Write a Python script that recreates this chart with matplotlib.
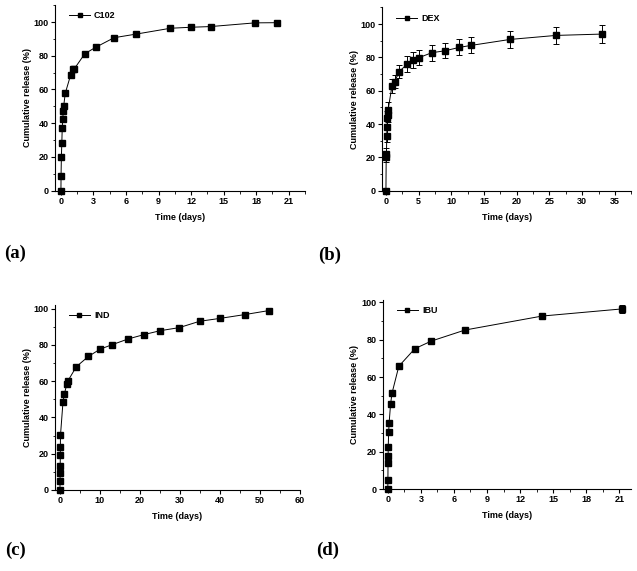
import matplotlib.pyplot as plt
from matplotlib.ticker import MultipleLocator, AutoMinorLocator

##################
### Data ###
## (a) C102
t_C102 = [0, 0.01, 0.04, 0.08, 0.12, 0.17, 0.21, 0.25, 0.4, 0.9, 1.12, 1.25, 2.2, 3.2, 4.9, 6.9, 10.1, 12, 13.8, 17.9, 19.9]
r_C102 = [0, 8.9, 19.8, 28.1, 37.2, 42.4, 47.1, 50.1, 57.8, 68.7, 71.9, 72.4, 81.2, 85.0, 90.7, 92.8, 96.3, 96.9, 97.3, 99.5, 99.6]

## (b) DEX
t_DEX = [0, 0.04, 0.08, 0.125, 0.17, 0.21, 0.25, 0.33, 0.92, 1.33, 2, 3.26, 4.2, 5, 7, 9.05, 11.2, 13, 19, 26, 33]
r_DEX = [0, 20.5, 22.0, 33.0, 38.5, 43.5, 45.5, 48.5, 62.8, 65.4, 71.4, 76.0, 78.2, 79.8, 82.8, 84.0, 86.0, 87.2, 90.8, 93.2, 94.0]
e_DEX = [0, 3.0, 3.5, 4.0, 4.5, 4.5, 4.5, 5.0, 4.0, 4.0, 4.0, 4.6, 4.8, 4.6, 4.7, 4.5, 4.8, 4.8, 5.1, 5.3, 5.5]

## (c) IND
t_IND = [0, 0.02, 0.04, 0.06, 0.08, 0.1, 0.125, 0.75, 1.1, 1.7, 2, 4.1, 7.1, 10, 12.9, 17.1, 20.9, 25, 29.8, 34.9, 40, 46.2, 52.2]
r_IND = [0, 5.0, 9.2, 13.2, 19.4, 23.9, 30.1, 48.4, 53.0, 58.2, 60.2, 68.0, 73.6, 77.6, 80.0, 83.3, 85.6, 87.8, 89.5, 93.0, 94.6, 96.7, 98.9]

## (d) IBU
t_IBU = [0, 0.01, 0.02, 0.03, 0.04, 0.08, 0.12, 0.25, 0.38, 1, 2.45, 3.95, 7, 14, 21.2]
r_IBU = [0, 4.6, 13.8, 17.9, 22.7, 30.7, 35.4, 45.4, 51.3, 65.8, 75.2, 79.3, 85.2, 92.7, 96.5]
e_IBU = [0, 0.3, 0.4, 0.4, 0.5, 0.5, 0.6, 0.6, 0.8, 1.0, 0.8, 0.8, 0.8, 1.2, 2.1]

################
### Graphics ###
plt.rcParams['font.family'] = ['Liberation Sans', 'DejaVu Sans']
plt.rcParams['font.weight'] = 'bold'

fig = plt.figure(figsize=(6.37, 5.71), dpi=100)

## name, times, values, errors, axes rect, xlim, ylim, x major step, panel label + position
panels = [
    ('C102', t_C102, r_C102, None, [0.0863, 0.666, 0.3925, 0.325], (-0.55, 22.5), (0, 110), 3, '(a)', (15, 253)),
    ('DEX', t_DEX, r_DEX, e_DEX, [0.5997, 0.666, 0.3913, 0.321], (-0.6, 37.5), (0, 110), 5, '(b)', (330, 255)),
    ('IND', t_IND, r_IND, None, [0.0863, 0.1419, 0.3846, 0.324], (-1.25, 60), (0, 102), 10, '(c)', (15, 550)),
    ('IBU', t_IBU, r_IBU, e_IBU, [0.601, 0.1436, 0.3896, 0.331], (-0.45, 22.06), (0, 101.3), 3, '(d)', (328, 550)),
]

fs = 6.5

for name, t, r, e, rect, xl, yl, step, lab, pos in panels:
    ax = fig.add_axes(rect)
    if e is None:
        h, = ax.plot(t, r, color='black', marker='s', markersize=4, linewidth=0.7,
                     label=name, clip_on=False)
    else:
        eb = ax.errorbar(t, r, yerr=e, color='black', marker='s', markersize=4, linewidth=0.7,
                         elinewidth=0.7, capsize=2, capthick=0.7, clip_on=False)
        h = eb.lines[0]
        h.set_label(name)

    ## Axes look (Origin-like)
    ax.spines['top'].set_visible(False)
    ax.spines['right'].set_visible(False)
    ax.spines['left'].set_linewidth(0.8)
    ax.spines['bottom'].set_linewidth(0.8)
    ax.set_xlim(xl)
    ax.set_ylim(yl)
    ax.xaxis.set_major_locator(MultipleLocator(step))
    ax.yaxis.set_major_locator(MultipleLocator(20))
    ax.xaxis.set_minor_locator(AutoMinorLocator(2))
    ax.yaxis.set_minor_locator(AutoMinorLocator(2))
    ax.set_xticks([v for v in ax.get_xticks() if v >= 0 and v <= xl[1] + 0.01])
    ax.set_yticks([v for v in range(0, 101, 20)])
    ax.set_xlim(xl)
    ax.set_ylim(yl)
    ax.tick_params(which='major', direction='out', length=3, width=0.8, labelsize=fs, pad=1.5)
    ax.tick_params(which='minor', direction='out', length=1.8, width=0.6)

    ax.set_xlabel('Time (days)', fontsize=fs, fontweight='bold', labelpad=5)
    ax.set_ylabel('Cumulative release (%)', fontsize=fs, fontweight='bold', labelpad=1.5)

    ax.legend(handles=[h], loc='upper left', frameon=False, fontsize=fs, markerscale=0.55,
              handlelength=2.4, handletextpad=0.4, borderaxespad=0.3,
              bbox_to_anchor=(0.03, 1.0))

    ## Panel label
    fig.text(pos[0] / 637, 1 - pos[1] / 571, lab, fontsize=13.5, fontweight='bold',
             family='Liberation Serif', ha='center', va='center')

fig.savefig('out.png', dpi=100)
